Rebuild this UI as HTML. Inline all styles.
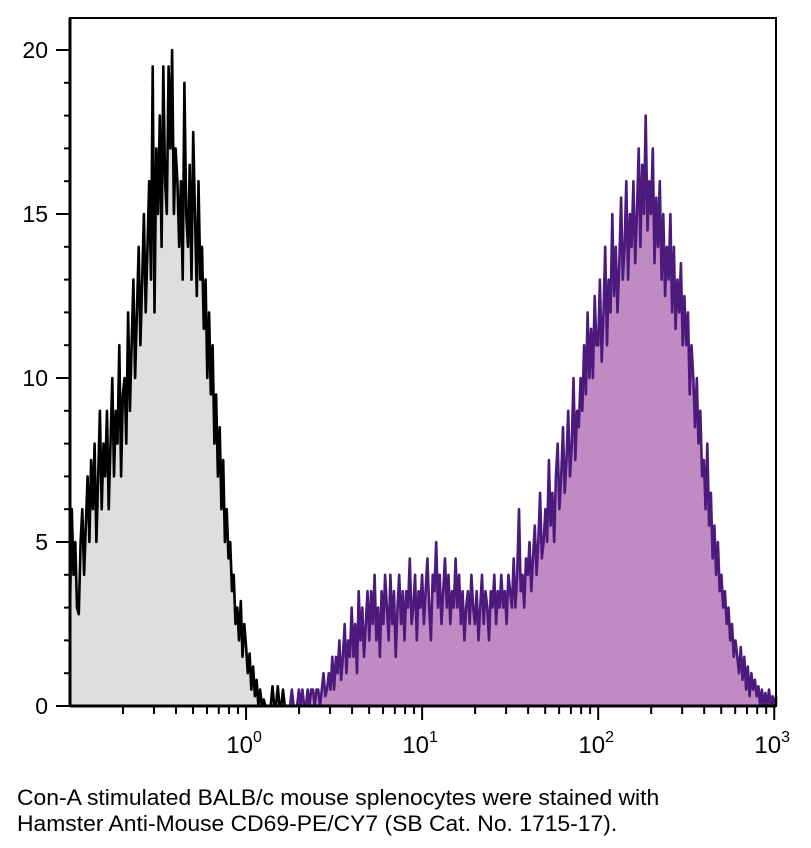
<!DOCTYPE html>
<html><head><meta charset="utf-8"><style>
body{margin:0;background:#fff;width:811px;height:848px;overflow:hidden;font-family:"Liberation Sans",sans-serif}
.cap{position:absolute;left:17px;font-size:22px;color:#000;transform:scaleX(1.04);transform-origin:left top;white-space:nowrap}
</style></head><body>
<svg id="chart" width="811" height="770" style="position:absolute;left:0;top:0">
<g id="marks"></g>
<g id="axes"></g>
</svg>
<div class="cap" style="top:785px">Con-A stimulated BALB/c mouse splenocytes were stained with</div>
<div class="cap" style="top:811px">Hamster Anti-Mouse CD69-PE/CY7 (SB Cat. No. 1715-17).</div>
<script>
const grayStart=-1.00, purpleStart=0.20, step=0.01;
const grayValues=[3,6,4,5,3,2.8,5,6,4,5.5,7,
5,7.5,6,8,5,7,9,6,8,7,
9,6,8,10,7,9,8,11,7,9.5,
10,8,12,9,11,13,10,12,14,11,
13,15,12,14,16,13,19.5,12,17,15,
18,14,19.5,16,15,19.5,17,20,15,17,
16,14,16,13,19,15,14,16.5,13,17.5,
15,12.5,16,13,14,11.5,13,10,12,9.5,
11,8,9.5,7,8.5,6,7.5,5,6,4.5,
5,3.5,4,2.5,3,2,3.2,1.5,2.5,1.8,
1,1.6,0.5,1.2,0.3,0.8,0,0.5,0,0.2,
0,0,0,0,0.6,0,0,0.6,0,0,0.5,0,0,0,0];
const purpleValues=[0,0,0,0,0,0,0.5,0,0,0,
0.5,0,0.5,0,0,0.5,0,0.5,0.5,0,
0.5,0.5,0,0.5,1,0.3,0.5,1,0.5,1.5,
0.5,1.5,1,2,0.8,1.5,2.5,1,2,1.5,
3,1.5,2.5,1,3.5,2,3,1.5,2.5,3.5,
2,3.5,2.5,4,2,3,1.5,3.5,2.5,4,
3,2,4,2.5,3.5,1.5,3,4,2.5,3.5,
2,3.5,3,4.5,2.5,3,4,2,3.5,3,
4,2.5,3.5,4.5,3,2,4,3.5,5,3,
4,2.5,3.5,4.5,3,4,2.5,3.5,3,4.5,
3,4,2.5,3.5,2,3,3.5,2.5,4,3,
2.5,3.5,2,3,4,2.5,3.5,3,2,3.5,
3,4,2.5,3.5,3,4,3,3.5,2.5,4,
3.5,3,4.5,3,4,6,3.5,4,3,4.5,
4,5,3.5,4.5,5.5,4,5,6.5,4.5,5,
6,5,7.5,5.5,6.5,5,7,8,6,7,
8.5,6.5,7.5,9,7,8,10,7.5,9,8.5,
10,9,11,9.5,12,10,11.5,10,12.5,11,
11,13,10.5,12,14,11,13,12,15,12.5,
14,12,13.5,15.5,13,14,16,13,15,14,
16,13.5,15,17,14,16.5,15,18,14.5,16,
15,17,13.5,15.5,14,16,13,15,12.5,14,
13,15,12,14,11.5,13,12,13.5,11,12.5,
11,12,9.5,11,10,8.5,10,8,9,7,
7.5,6,8,5.5,6.5,4.5,5.5,4,5,3.5,
4,3,3.5,2.5,3,2,2.5,1.5,2,1.5,
1,1.8,0.8,1.5,0.5,1.2,0.3,1,0.5,0.8,
0.3,0.6,0,0.5,0,0.4,0,0.5,0,0.3,0,0.3,0];
const yTicks=[0,5,10,15,20];
const xDecades=[0,1,2,3];

const L=70,R=776,T=18,B=706;
const xs=d=>L+(d+1)*(R-L)/4.01;
const ys=v=>B-v*(B-50)/20;
const NS="http://www.w3.org/2000/svg";
function mk(t,a,p){const e=document.createElementNS(NS,t);for(const k in a)e.setAttribute(k,a[k]);p.appendChild(e);return e;}
const marks=document.getElementById('marks'), axes=document.getElementById('axes');
function series(vals,start,fill,stroke,name){
  let pts=vals.map((v,i)=>[Math.min(R,xs(start+i*step)),ys(v)]);
  let line=pts.map((p,i)=>(i?'L':'M')+p[0].toFixed(1)+','+p[1].toFixed(1)).join('');
  let area=line+'L'+pts[pts.length-1][0].toFixed(1)+','+B+'L'+pts[0][0].toFixed(1)+','+B+'Z';
  const a=mk('path',{d:area,fill:fill,stroke:'none'},marks);
  
  
  const l=mk('path',{d:line,fill:'none',stroke:stroke,'stroke-width':2.6,'stroke-linejoin':'round'},marks);
  
  
}
series(grayValues,grayStart,'#dedede','#000','control-histogram');
series(purpleValues,purpleStart,'#c08bc3','#4c1a7c','cd69-histogram');
const f=mk('rect',{x:L,y:T,width:R-L,height:B-T,fill:'none',stroke:'#000','stroke-width':2},axes);


mk('line',{x1:L,y1:T,x2:L,y2:B,stroke:'#000','stroke-width':3},axes);
mk('line',{x1:L,y1:B,x2:R,y2:B,stroke:'#000','stroke-width':3},axes);
for(let v=0;v<=20;v++){const y=ys(v);const maj=v%5===0;
  mk('line',{x1:L-(maj?14:6),y1:y,x2:L,y2:y,stroke:'#000','stroke-width':2},axes);}
yTicks.forEach(v=>{const t=mk('text',{x:L-22,y:ys(v)+8,'text-anchor':'end','font-size':23,'font-family':'Liberation Sans, sans-serif'},axes);t.textContent=v;
  
  });
for(let d=-1;d<3;d++){for(let m=2;m<=9;m++){const x=xs(d+Math.log10(m));
  mk('line',{x1:x,y1:B,x2:x,y2:B+8,stroke:'#000','stroke-width':2},axes);}}
xDecades.forEach(d=>{const x=Math.min(xs(d),R);
  mk('line',{x1:x,y1:B,x2:x,y2:B+14,stroke:'#000','stroke-width':2},axes);
  const t=mk('text',{x:x-2,y:B+47,'text-anchor':'middle','font-size':24,'font-family':'Liberation Sans, sans-serif'},axes);
  
  
  t.textContent='10';
  const s=mk('tspan',{dy:-11,'font-size':16},t);s.textContent=d;});
</script>
</body></html>
